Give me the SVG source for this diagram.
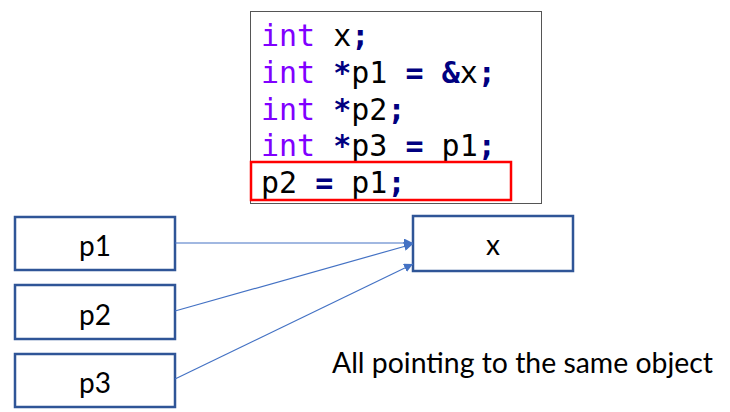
<svg xmlns="http://www.w3.org/2000/svg" width="730" height="412" viewBox="0 0 730 412">
<defs>
<style>
.code{font-family:"DejaVu Sans Mono","Liberation Mono",monospace;font-size:30px;fill:#000}
.kw{fill:#8000ff}
.op{fill:#000080;font-weight:bold}
.box{fill:#fff;stroke:#2f5597;stroke-width:2.5}
.lbl{font-family:Lato,"Noto Sans",sans-serif;font-size:28px;fill:#000;text-anchor:middle}
.conn{stroke:#4472c4;stroke-width:1.2;fill:none;marker-end:url(#ah)}
</style>
<marker id="ah" viewBox="0 0 10 10" refX="10" refY="5" markerWidth="9" markerHeight="9" markerUnits="userSpaceOnUse" orient="auto">
<path d="M0,0 L10,5 L0,10 z" fill="#4472c4"/>
</marker>
</defs>
<rect width="730" height="412" fill="#fff"/>
<g id="code">
<rect x="250.5" y="11.5" width="291" height="192" fill="#fff" stroke="#555" stroke-width="1"/>
<text class="code" x="261" y="46"><tspan class="kw">int</tspan> x<tspan class="op">;</tspan></text>
<text class="code" x="261" y="83"><tspan class="kw">int</tspan> <tspan class="op">*</tspan>p1 <tspan class="op">=</tspan> <tspan class="op">&amp;</tspan>x<tspan class="op">;</tspan></text>
<text class="code" x="261" y="120"><tspan class="kw">int</tspan> <tspan class="op">*</tspan>p2<tspan class="op">;</tspan></text>
<text class="code" x="261" y="156"><tspan class="kw">int</tspan> <tspan class="op">*</tspan>p3 <tspan class="op">=</tspan> p1<tspan class="op">;</tspan></text>
<text class="code" x="261" y="193">p2 <tspan class="op">=</tspan> p1<tspan class="op">;</tspan></text>
<rect x="251" y="162" width="260" height="38" fill="none" stroke="#ff0000" stroke-width="2.5"/>
</g>
<g id="p1"><rect class="box" x="15" y="217" width="160" height="53"/><text class="lbl" x="95" y="256">p1</text></g>
<g id="p2"><rect class="box" x="15" y="285" width="160" height="54"/><text class="lbl" x="95" y="325">p2</text></g>
<g id="p3"><rect class="box" x="15" y="354" width="160" height="53"/><text class="lbl" x="95" y="393">p3</text></g>
<g id="x"><rect class="box" x="413" y="216" width="160" height="55"/><text class="lbl" x="493" y="255">x</text></g>
<g id="connectors">
<line class="conn" x1="175" y1="243" x2="413" y2="243"/>
<line class="conn" x1="175" y1="311" x2="413" y2="244"/>
<line class="conn" x1="175" y1="379" x2="413" y2="264"/>
</g>
<text id="caption" x="332" y="373" style="font-family:Lato,'Noto Sans',sans-serif;font-size:28.4px;fill:#000">All pointing to the same object</text>
</svg>
